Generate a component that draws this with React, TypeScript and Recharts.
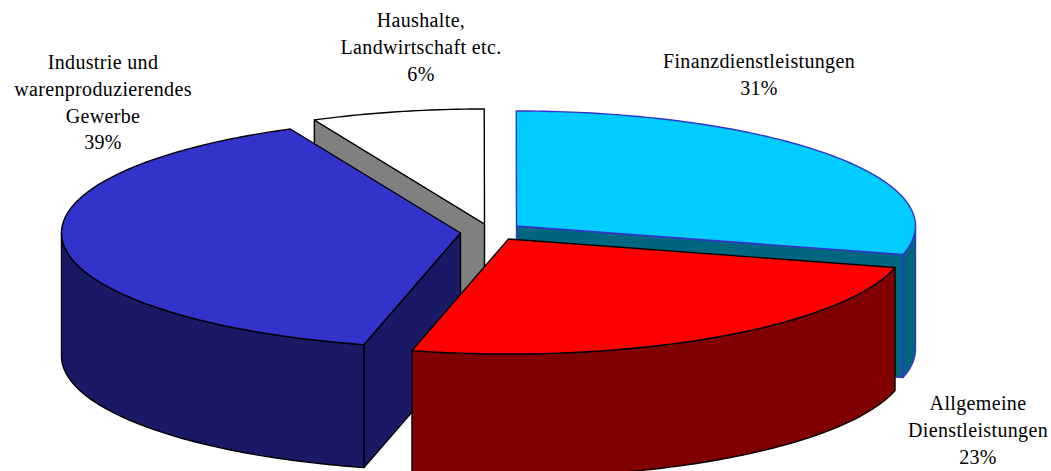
import React from "react";
import { PieChart, Pie } from "recharts";

// Segments as they are drawn (swept area), in drawing order round the pie.
const segmentNames = [
  "Industrie",
  "Haushalte",
  "Finanzdienstleistungen",
  "Allgemeine Dienstleistungen",
];
const segmentSweep = [39.1, 7, 29, 24.9];

// Printed labels
const labelLines = [
  ["Industrie und", "warenproduzierendes", "Gewerbe", "39%"],
  ["Haushalte,", "Landwirtschaft etc.", "6%"],
  ["Finanzdienstleistungen", "31%"],
  ["Allgemeine", "Dienstleistungen", "23%"],
];

const data = segmentNames.map((name, i) => ({ name, value: segmentSweep[i] }));

type Look = { top: string; side: string; face: string; stroke: string; dx: number; dy: number; faceAt: "start" | "end" | null };
const LOOK: Record<string, Look> = {
  Industrie: { top: "#3333CC", side: "#191966", face: "#191966", stroke: "#000000", dx: -29, dy: 0, faceAt: "start" },
  Haushalte: { top: "#FFFFFF", side: "#808080", face: "#808080", stroke: "#000000", dx: -5, dy: -9, faceAt: "start" },
  Finanzdienstleistungen: { top: "#00CCFF", side: "#006680", face: "#006680", stroke: "#3333CC", dx: 27, dy: -7, faceAt: "end" },
  "Allgemeine Dienstleistungen": { top: "#FF0000", side: "#800000", face: "#800000", stroke: "#000000", dx: 19, dy: 6, faceAt: null },
};

const CX = 489.5;
const CY = 233;
const RX = 399;
const SQUASH = 115 / 399;
const DEPTH = 123;
const LABEL_POS = [
  { x: 103, y: 69 },
  { x: 421, y: 27 },
  { x: 759, y: 68 },
  { x: 978, y: 410 },
];
const LINE_H = 26.8;

function makeShape(layer: string[]) {
  return function Shape(props: any) {
    const look = LOOK[props.name];
    if (!look || !layer.includes(props.name)) return <g />;
    const rx = props.outerRadius as number;
    const ry = rx * SQUASH;
    const ox = (props.cx as number) + look.dx;
    const oy = (props.cy as number) + look.dy;
    // Recharts angles run anticlockwise from 3 o'clock; turn them into clockwise from 12 o'clock.
    const toCw = (a: number) => 90 - a;
    const from = toCw(props.startAngle);
    const to = toCw(props.endAngle);
    const pt = (cw: number, drop = 0): [number, number] => {
      const r = (cw * Math.PI) / 180;
      return [ox + rx * Math.sin(r), oy - ry * Math.cos(r) + drop];
    };
    const arc = (a: number, b: number, drop = 0) => {
      const steps = Math.max(2, Math.ceil(Math.abs(b - a)));
      const out: string[] = [];
      for (let i = 0; i <= steps; i++) {
        const p = pt(a + ((b - a) * i) / steps, drop);
        out.push(`${p[0].toFixed(2)} ${p[1].toFixed(2)}`);
      }
      return out;
    };
    const sw = 1.4;
    const parts: React.ReactNode[] = [];

    // cut face
    if (look.faceAt) {
      const a = look.faceAt === "start" ? from : to;
      const [px, py] = pt(a);
      parts.push(
        <path key="face" d={`M${ox} ${oy}L${px} ${py}L${px} ${py + DEPTH}L${ox} ${oy + DEPTH}Z`}
          fill={look.face} stroke={look.stroke} strokeWidth={sw} strokeLinejoin="round" />
      );
    }
    // rim: only the part of the arc in the front half (90..270 clockwise from top)
    const norm = (v: number) => ((v % 360) + 360) % 360;
    let a0 = norm(from);
    if (a0 > 270) a0 -= 360;
    const a1 = a0 + ((norm(to) - norm(from) + 360) % 360 || 360);
    const s = Math.max(a0, 90);
    const e = Math.min(a1, 270);
    if (e > s) {
      const upper = arc(s, e);
      const lower = arc(e, s, DEPTH);
      parts.push(
        <path key="rim" d={`M${upper.join("L")}L${lower.join("L")}Z`} fill={look.side}
          stroke={look.stroke} strokeWidth={sw} strokeLinejoin="round" />
      );
    }
    // top
    parts.push(
      <path key="top" d={`M${ox} ${oy}L${arc(a0, a1).join("L")}Z`} fill={look.top}
        stroke={look.stroke} strokeWidth={sw} strokeLinejoin="round" />
    );
    return <g>{parts}</g>;
  };
}

const backShape = makeShape(["Haushalte", "Finanzdienstleistungen"]);
const frontShape = makeShape(["Industrie", "Allgemeine Dienstleistungen"]);

const pieCommon = {
  data,
  dataKey: "value",
  nameKey: "name",
  cx: CX,
  cy: CY,
  innerRadius: 0,
  outerRadius: RX,
  startAngle: 90 - 194,
  endAngle: 90 - 194 - 360,
  paddingAngle: 0,
  stroke: "none",
  isAnimationActive: false,
  legendType: "none" as const,
  labelLine: false,
  label: false,
};

export default function App() {
  return (
    <div style={{ position: "absolute", left: 0, top: 0, width: 1051, height: 471, overflow: "hidden", background: "#fff" }}>
      <PieChart width={1051} height={471} margin={{ top: 0, right: 0, bottom: 0, left: 0 }}>
        <Pie {...pieCommon} shape={backShape} />
        <Pie {...pieCommon} shape={frontShape} />
        {labelLines.map((lines, i) => (
          <text key={i} textAnchor="middle" fontFamily="'Liberation Serif', serif" fontSize={20} letterSpacing={0.35} fill="#000">
            {lines.map((t, j) => (
              <tspan key={j} x={LABEL_POS[i].x} y={LABEL_POS[i].y + j * LINE_H}>{t}</tspan>
            ))}
          </text>
        ))}
      </PieChart>
    </div>
  );
}
